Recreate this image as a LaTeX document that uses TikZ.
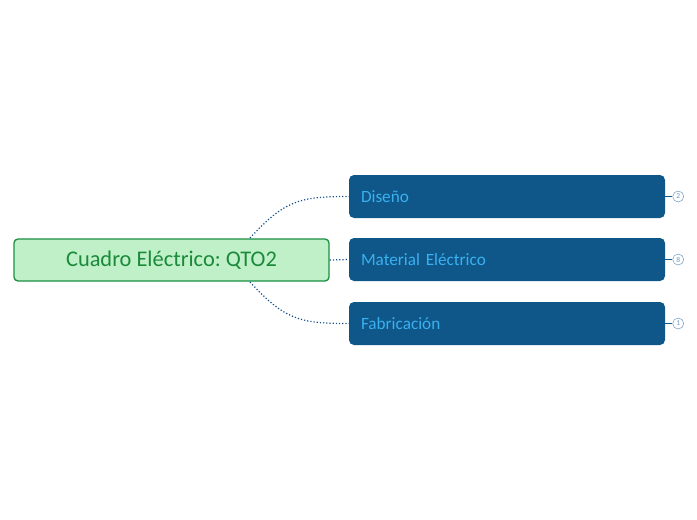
\documentclass[tikz,border=0pt]{standalone}
\usepackage{fontspec}
\setmainfont{Carlito}
\usepackage{tikz}
\usetikzlibrary{positioning,calc}
\definecolor{rootfill}{RGB}{192,240,200}
\definecolor{rootline}{RGB}{26,144,64}
\definecolor{roottext}{RGB}{26,138,58}
\definecolor{topicfill}{RGB}{14,87,136}
\definecolor{topictext}{RGB}{59,176,240}
\definecolor{linkblue}{RGB}{20,80,140}
\definecolor{badgeline}{RGB}{110,150,190}
\frenchspacing
\tikzset{
  rootbox/.style={draw=rootline,fill=rootfill,line width=1.3pt,rounded corners=4pt,
    minimum width=315pt,minimum height=42pt,text=roottext,font=\fontsize{22.4}{24}\selectfont},
  topicbox/.style={fill=topicfill,rounded corners=5pt,minimum width=316pt,minimum height=43pt,
    text=topictext,font=\fontsize{17.2}{19}\selectfont,text width=292pt,align=left},
  link/.style={draw=linkblue,line width=1.2pt,dotted},
  badge/.style={circle,draw=badgeline,fill=white,line width=0.5pt,inner sep=0pt,
    minimum size=11pt,text=badgeline,font=\fontsize{7.5}{7.5}\selectfont}
}
\begin{document}
\begin{tikzpicture}[x=1pt,y=-1pt]
  \useasboundingbox (0,0) rectangle (697,520);
  \node[rootbox] (root) at (171.5,260) {Cuadro Eléctrico: QTO2};
  \node[topicbox] (design) at (507,196.5) {Diseño};
  \node[topicbox] (material) at (507,259.5) {Material Eléctrico};
  \node[topicbox] (fab) at (507,323.5) {Fabricación};
  \coordinate (rtop) at (250,238);
  \coordinate (rbot) at (250,282);
  \draw[link] (rtop) .. controls (285,200) and (300,196.5) .. (design.west);
  \draw[link] (root.east) -- (material.west);
  \draw[link] (rbot) .. controls (285,320) and (300,323.5) .. (fab.west);
  \foreach \t/\n in {design/2,material/8,fab/1}{
    \node[badge] (b\t) at ($(\t.east)+(13,0)$) {\n};
    \draw[topicfill,line width=1.5pt] (\t.east) -- (b\t.west);
  }
\end{tikzpicture}
\end{document}
